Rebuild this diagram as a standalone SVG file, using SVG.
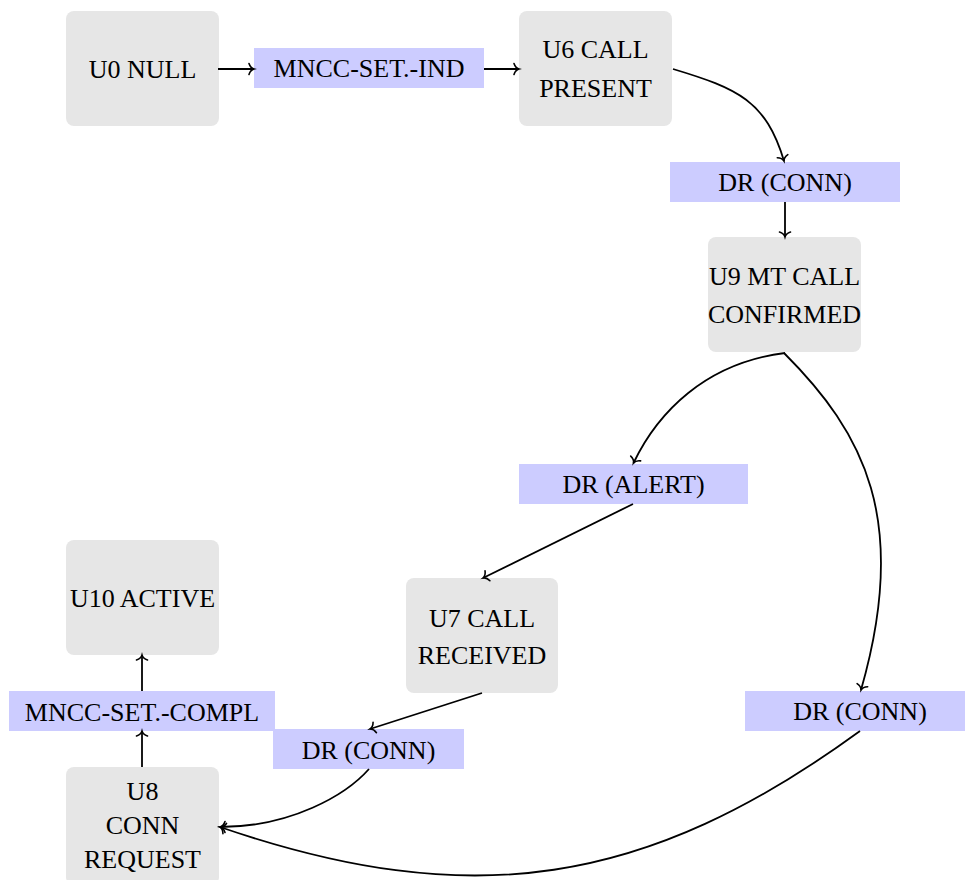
<svg xmlns="http://www.w3.org/2000/svg" width="965" height="880" viewBox="0 0 965 880">
  <defs>
    <style>
      .state { fill: #e6e6e6; }
      .msg { fill: #ccccff; }
      .edge { fill: none; stroke: #000; stroke-width: 1.8; marker-end: url(#tip); }
    </style>
    <marker id="tip" markerUnits="userSpaceOnUse" markerWidth="14" markerHeight="14" refX="0" refY="0" viewBox="-7 -7 14 14" orient="auto" overflow="visible">
      <path d="M-5,-5.5 C-4,-2.4 -1.8,-0.5 0,0 C-1.8,0.5 -4,2.4 -5,5.5" fill="none" stroke="#000" stroke-width="1.6" stroke-linecap="round"/>
    </marker>
  </defs>

  <!-- states and messages -->
  <g id="nodes" font-family="Times New Roman, Liberation Serif, Times, serif" font-size="26" text-anchor="middle" fill="#000">
  <g id="u0">
    <rect class="state" x="66" y="11" width="153" height="115" rx="8"/>
    <text x="142.5" y="77.5">U0 NULL</text>
  </g>
  <g id="mncc-set-ind">
    <rect class="msg" x="254" y="48" width="230" height="40"/>
    <text x="369" y="77.3">MNCC-SET.-IND</text>
  </g>
  <g id="u6">
    <rect class="state" x="519" y="11" width="153" height="115" rx="8"/>
    <text x="595.5" y="58">U6 CALL</text>
    <text x="595.5" y="96.5">PRESENT</text>
  </g>
  <g id="dr-conn-1">
    <rect class="msg" x="670" y="162" width="230" height="40"/>
    <text x="785" y="191">DR (CONN)</text>
  </g>
  <g id="u9">
    <rect class="state" x="708" y="237" width="153" height="115" rx="8"/>
    <text x="784.5" y="284.5">U9 MT CALL</text>
    <text x="784.5" y="322.5">CONFIRMED</text>
  </g>
  <g id="dr-alert">
    <rect class="msg" x="519" y="464" width="229" height="40"/>
    <text x="633.5" y="493">DR (ALERT)</text>
  </g>
  <g id="u7">
    <rect class="state" x="406" y="578" width="152" height="115" rx="8"/>
    <text x="482" y="626.5">U7 CALL</text>
    <text x="482" y="664">RECEIVED</text>
  </g>
  <g id="dr-conn-2">
    <rect class="msg" x="745" y="691" width="230" height="40"/>
    <text x="860" y="720">DR (CONN)</text>
  </g>
  <g id="u10">
    <rect class="state" x="66" y="540" width="153" height="115" rx="8"/>
    <text x="142.5" y="607.3">U10 ACTIVE</text>
  </g>
  <g id="mncc-set-compl">
    <rect class="msg" x="9" y="691" width="266" height="40"/>
    <text x="142" y="720.5">MNCC-SET.-COMPL</text>
  </g>
  <g id="dr-conn-3">
    <rect class="msg" x="273" y="729" width="191" height="40"/>
    <text x="368.5" y="758.5">DR (CONN)</text>
  </g>
  <g id="u8">
    <rect class="state" x="66" y="767" width="153" height="118" rx="8"/>
    <text x="142.5" y="800">U8</text>
    <text x="142.5" y="834">CONN</text>
    <text x="142.5" y="868">REQUEST</text>
  </g>
  </g>

  <!-- transitions -->
  <g id="connectors">
    <path class="edge" d="M218,69 H254"/>
    <path class="edge" d="M484,69 H519"/>
    <path class="edge" d="M673,69 C738,88.5 766,101 784,161"/>
    <path class="edge" d="M785,202 V237"/>
    <path class="edge" d="M785,353 C705,363 657.5,413 633.5,463"/>
    <path class="edge" d="M784,353 C864,433 910,520 861,690"/>
    <path class="edge" d="M633,504 L483,578"/>
    <path class="edge" d="M482,693 L370,729"/>
    <path class="edge" d="M369,769 C346,795 291,827 220,827"/>
    <path class="edge" d="M860,731 C646,887 471,913 220,827"/>
    <path class="edge" d="M142,767 V731"/>
    <path class="edge" d="M142,691 V655"/>
  </g>
</svg>
